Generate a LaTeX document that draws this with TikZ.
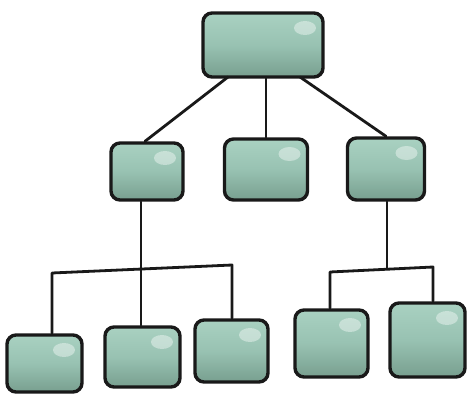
\documentclass[tikz,border=0pt]{standalone}
\usetikzlibrary{calc}
\definecolor{boxtop}{HTML}{A9D1C1}
\definecolor{boxmid}{HTML}{98C2B2}
\definecolor{boxbot}{HTML}{789F8F}
\tikzset{
  box/.style={draw=black!90, line width=3.4pt, rounded corners=9pt,
    top color=boxtop, bottom color=boxbot, middle color=boxmid,
    inner sep=0pt,
    path picture={\fill[white,opacity=0.4]
      ([xshift=-18pt,yshift=-15pt]path picture bounding box.north east)
      ellipse (11pt and 7pt);}},
  link/.style={draw=black!90, line width=2.8pt, line cap=round, line join=round}
}
\begin{document}
\begin{tikzpicture}[x=1pt,y=-1pt]
\useasboundingbox (0,0) rectangle (467,394);
% top
\node[box, minimum width=120pt, minimum height=64pt] (t) at (263,45) {};
% middle row
\node[box, minimum width=72pt, minimum height=57pt] (m1) at (147,171.5) {};
\node[box, minimum width=83pt, minimum height=61pt] (m2) at (266,169.5) {};
\node[box, minimum width=77pt, minimum height=62pt] (m3) at (386,169) {};
% bottom row
\node[box, minimum width=75pt, minimum height=57pt] (b1) at (44.5,363.5) {};
\node[box, minimum width=75pt, minimum height=60pt] (b2) at (142.5,357) {};
\node[box, minimum width=73pt, minimum height=62pt] (b3) at (231.5,351) {};
\node[box, minimum width=73pt, minimum height=67pt] (b4) at (331.5,343.5) {};
\node[box, minimum width=75pt, minimum height=74pt] (b5) at (427.5,340) {};
% junction coordinates
\coordinate (tl) at (228,77);
\coordinate (tr) at (300,77);
\coordinate (j1) at (52,273);
\coordinate (j2) at (232,265);
\coordinate (j3) at (330,272);
\coordinate (j4) at (433,267);
\coordinate (jm) at (141,269);
\coordinate (jr) at (387,268);
% connectors
\draw[link] (tl) -- ([xshift=-2pt]m1.north);
\draw[link] (t.south -| m2.north) -- (m2.north);
\draw[link] (tr) -- (m3.north);
\draw[link] (jm |- m1.south) -- (jm |- b2.north);
\draw[link] (j1 |- b1.north) -- (j1) -- (j2) -- (j2 |- b3.north);
\draw[link] (jr |- m3.south) -- (jr);
\draw[link] (j3 |- b4.north) -- (j3) -- (j4) -- (j4 |- b5.north);
\end{tikzpicture}
\end{document}
